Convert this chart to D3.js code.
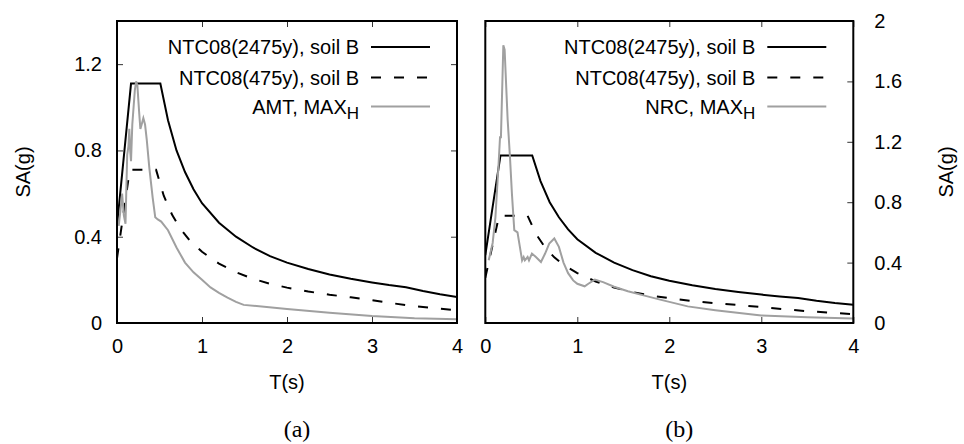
<!DOCTYPE html>
<html>
<head>
<meta charset="utf-8">
<script src="https://d3js.org/d3.v7.min.js"></script>
<style>
  body { margin: 0; background: #fff; }
  text { font-family: "Liberation Sans", Arial, sans-serif; fill: #000; }
</style>
</head>
<body>
<svg id="chart" width="964" height="444"></svg>
<script>
// NTC08 design spectra (same in both panels)
var ntc2475T  = [0, 0.165, 0.51, 0.6, 0.7, 0.8, 0.9, 1.0, 1.2, 1.4, 1.6, 1.8, 2.0, 2.25, 2.5, 2.75, 3.0, 3.2, 3.4, 3.6, 3.8, 4.0];
var ntc2475SA = [0.45, 1.11, 1.11, 0.94, 0.80, 0.70, 0.62, 0.555, 0.465, 0.40, 0.35, 0.31, 0.28, 0.25, 0.225, 0.205, 0.188, 0.176, 0.166, 0.148, 0.133, 0.121];

var ntc475T  = [0, 0.15, 0.46, 0.55, 0.65, 0.75, 0.85, 1.0, 1.2, 1.4, 1.6, 1.8, 2.0, 2.25, 2.5, 2.75, 3.0, 3.25, 3.5, 3.75, 4.0];
var ntc475SA = [0.30, 0.71, 0.71, 0.59, 0.50, 0.435, 0.385, 0.33, 0.275, 0.235, 0.205, 0.182, 0.164, 0.146, 0.131, 0.119, 0.106, 0.091, 0.078, 0.068, 0.059];

// (a) AMT, MAX_H
var amtT  = [0.02, 0.04, 0.06, 0.08, 0.10, 0.11, 0.12, 0.135, 0.145, 0.155, 0.165, 0.18, 0.195, 0.21, 0.225, 0.24, 0.26, 0.275, 0.29, 0.31, 0.33, 0.35, 0.38, 0.42, 0.45, 0.48, 0.52, 0.6, 0.7, 0.8, 0.9, 1.0, 1.1, 1.2, 1.3, 1.4, 1.49, 2.0, 2.5, 3.0, 3.5, 4.0];
var amtSA = [0.45, 0.52, 0.60, 0.50, 0.46, 0.62, 0.78, 0.82, 0.90, 0.80, 0.75, 0.92, 1.00, 1.08, 1.12, 1.10, 0.98, 0.90, 0.92, 0.95, 0.92, 0.85, 0.72, 0.58, 0.49, 0.48, 0.47, 0.43, 0.35, 0.28, 0.235, 0.20, 0.165, 0.14, 0.118, 0.098, 0.084, 0.065, 0.048, 0.032, 0.022, 0.017];

// (b) NRC, MAX_H
var nrcT  = [0.037, 0.08, 0.11, 0.145, 0.16, 0.17, 0.196, 0.21, 0.243, 0.268, 0.29, 0.315, 0.35, 0.37, 0.40, 0.417, 0.43, 0.46, 0.475, 0.507, 0.55, 0.605, 0.65, 0.695, 0.75, 0.80, 0.85, 0.90, 0.955, 1.0, 1.08, 1.12, 1.19, 1.28, 1.4, 1.55, 1.72, 1.9, 2.2, 2.5, 3.0, 3.5, 4.0];
var nrcSA = [0.415, 0.53, 0.70, 1.06, 1.23, 1.23, 1.84, 1.81, 1.345, 1.10, 0.85, 0.615, 0.60, 0.526, 0.415, 0.437, 0.415, 0.437, 0.415, 0.46, 0.437, 0.404, 0.46, 0.526, 0.56, 0.504, 0.40, 0.33, 0.282, 0.26, 0.243, 0.26, 0.287, 0.271, 0.24, 0.21, 0.183, 0.155, 0.11, 0.085, 0.05, 0.038, 0.03];

var xTicks = [0, 1, 2, 3, 4];
var yTicksA = [0, 0.4, 0.8, 1.2];
var yTicksB = [0, 0.4, 0.8, 1.2, 1.6, 2];

function pts(t, s) { return t.map(function (v, i) { return [v, s[i]]; }); }

var svg = d3.select("#chart");
svg.append("rect").attr("width", 964).attr("height", 444).attr("fill", "#fff");

var panels = [
  { id: "a", left: 117, right: 457, yMax: 1.4, yTicks: yTicksA, side: "left",
    gray: pts(amtT, amtSA), grayName: "AMT, MAX", caption: "(a)" },
  { id: "b", left: 485.3, right: 853.3, yMax: 2, yTicks: yTicksB, side: "right",
    gray: pts(nrcT, nrcSA), grayName: "NRC, MAX", caption: "(b)" }
];
var plotTop = 21, plotBottom = 323;

panels.forEach(function (p) {
  var x = d3.scaleLinear().domain([0, 4]).range([p.left, p.right]);
  var y = d3.scaleLinear().domain([0, p.yMax]).range([plotBottom, plotTop]);
  var g = svg.append("g");

  g.append("clipPath").attr("id", "clip-" + p.id)
    .append("rect").attr("x", p.left).attr("y", plotTop)
    .attr("width", p.right - p.left).attr("height", plotBottom - plotTop);

  // ticks (inward, gnuplot style)
  var fmt = d3.format("~g");
  var xb = g.append("g").attr("transform", "translate(0," + plotBottom + ")")
    .call(d3.axisBottom(x).tickValues(xTicks).tickSize(-6).tickPadding(16).tickFormat(fmt));
  var xt = g.append("g").attr("transform", "translate(0," + plotTop + ")")
    .call(d3.axisTop(x).tickValues(xTicks).tickSize(-6).tickFormat(""));
  var yl, yr;
  if (p.side === "left") {
    yl = g.append("g").attr("transform", "translate(" + p.left + ",0)")
      .call(d3.axisLeft(y).tickValues(p.yTicks).tickSize(-6).tickPadding(15).tickFormat(fmt));
    yr = g.append("g").attr("transform", "translate(" + p.right + ",0)")
      .call(d3.axisRight(y).tickValues(p.yTicks).tickSize(-6).tickFormat(""));
  } else {
    yr = g.append("g").attr("transform", "translate(" + p.right + ",0)")
      .call(d3.axisRight(y).tickValues(p.yTicks).tickSize(-6).tickPadding(21).tickFormat(fmt));
  }
  [xb, xt, yl, yr].forEach(function (a) {
    if (!a) return;
    a.select(".domain").remove();
    a.selectAll(".tick line").attr("stroke", "#333").attr("stroke-width", 1);
    a.selectAll(".tick text").style("font-size", "20px").style("font-family", "'Liberation Sans', Arial, sans-serif");
  });

  var line = d3.line().x(function (d) { return x(d[0]); }).y(function (d) { return y(d[1]); });
  var curves = g.append("g").attr("clip-path", "url(#clip-" + p.id + ")");
  curves.append("path").datum(pts(ntc2475T, ntc2475SA)).attr("d", line)
    .attr("fill", "none").attr("stroke", "#000").attr("stroke-width", 2);
  curves.append("path").datum(pts(ntc475T, ntc475SA)).attr("d", line)
    .attr("fill", "none").attr("stroke", "#000").attr("stroke-width", 2).attr("stroke-dasharray", "10,13");
  curves.append("path").datum(p.gray).attr("d", line)
    .attr("fill", "none").attr("stroke", "#a0a0a0").attr("stroke-width", 2);

  // frame
  g.append("rect").attr("x", p.left).attr("y", plotTop)
    .attr("width", p.right - p.left).attr("height", plotBottom - plotTop)
    .attr("fill", "none").attr("stroke", "#000").attr("stroke-width", 2);

  // legend
  var textX = p.right - 98, lx0 = p.right - 86, lx1 = p.right - 27;
  var rows = [
    { label: "NTC08(2475y), soil B", base: 54, stroke: "#000", dash: null },
    { label: "NTC08(475y), soil B", base: 84.5, stroke: "#000", dash: "10,13" },
    { label: p.grayName, base: 113.5, stroke: "#a0a0a0", dash: null, sub: "H" }
  ];
  rows.forEach(function (r) {
    var t = g.append("text").attr("x", textX).attr("y", r.base)
      .attr("text-anchor", "end").style("font-size", "20px").text(r.label);
    if (r.sub) t.append("tspan").attr("dy", 5).style("font-size", "17px").text(r.sub);
    g.append("line").attr("x1", lx0).attr("x2", lx1)
      .attr("y1", r.base - 7).attr("y2", r.base - 7)
      .attr("stroke", r.stroke).attr("stroke-width", 2)
      .attr("stroke-dasharray", r.dash);
  });

  // axis titles
  var mid = (p.left + p.right) / 2;
  g.append("text").attr("x", mid).attr("y", 389).attr("text-anchor", "middle")
    .style("font-size", "20px").text("T(s)");
  var yx = p.side === "left" ? 30 : 953;
  g.append("text").attr("transform", "translate(" + yx + "," + (plotTop + plotBottom) / 2 + ") rotate(-90)")
    .attr("text-anchor", "middle").style("font-size", "20px").text("SA(g)");
  g.append("text").attr("x", mid + 10).attr("y", 437).attr("text-anchor", "middle")
    .style("font-size", "24px").style("font-family", "'Liberation Serif', 'Times New Roman', serif")
    .text(p.caption);
});
</script>
</body>
</html>
